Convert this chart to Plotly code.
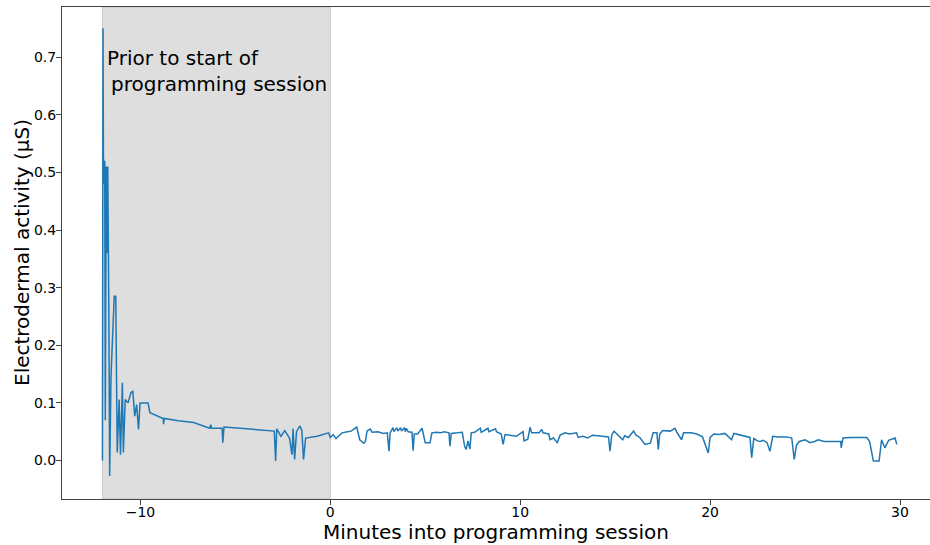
import plotly.graph_objects as go

minutes = [-12.0, -11.97, -11.95, -11.92, -11.88, -11.85, -11.80, -11.76, -11.72, -11.66,
           -11.62, -11.55, -11.45, -11.38, -11.30, -11.22, -11.12, -11.05, -10.95, -10.90,
           -10.80, -10.65, -10.50, -10.40, -10.30, -10.20, -10.10, -10.02, -9.85, -9.60,
           -9.50, -9.0, -8.8, -8.78, -8.75, -8.0, -7.2, -6.35, -6.3, -6.25,
           -5.7, -5.66, -5.6, -4.4, -2.95, -2.88, -2.82, -2.6, -2.4, -2.15,
           -2.02, -1.96, -1.88, -1.78, -1.6, -1.5, -1.41, -1.3, -0.7, -0.09,
           0.0, 0.15, 0.3, 0.45, 0.62, 0.9, 1.1, 1.39, 1.45, 1.55,
           1.76, 1.85, 1.93, 2.1, 2.2, 2.5, 2.8, 3.0, 3.09, 3.15,
           3.3, 3.35, 3.5, 3.55, 3.7, 3.75, 3.9, 3.95, 4.0, 4.1,
           4.3, 4.36, 4.42, 4.6, 4.83, 4.9, 5.0, 5.25, 5.35, 5.6,
           5.8, 6.0, 6.25, 6.3, 6.37, 6.7, 6.95, 7.07, 7.15, 7.25,
           7.35, 7.42, 7.6, 7.9, 7.95, 8.3, 8.35, 8.7, 8.75, 9.0,
           9.1, 9.2, 9.5, 9.8, 10.15, 10.2, 10.4, 10.52, 10.6, 11.0,
           11.13, 11.2, 11.5, 11.57, 11.75, 11.95, 12.1, 12.36, 12.6, 12.97,
           13.05, 13.3, 13.55, 13.8, 14.1, 14.4, 14.65, 14.73, 14.82, 14.94,
           15.2, 15.4, 15.5, 15.7, 15.97, 16.1, 16.3, 16.57, 16.85, 17.0,
           17.2, 17.27, 17.35, 17.5, 17.9, 18.15, 18.25, 18.5, 18.6, 19.0,
           19.3, 19.6, 19.9, 20.0, 20.2, 20.5, 20.78, 21.13, 21.25, 21.6,
           21.9, 22.1, 22.19, 22.3, 22.5, 22.63, 22.8, 23.0, 23.15, 23.3,
           23.6, 24.03, 24.3, 24.43, 24.55, 24.7, 25.0, 25.26, 25.5, 25.7,
           26.0, 26.4, 26.88, 26.9, 26.95, 27.0, 27.4, 27.8, 28.25, 28.4,
           28.6, 28.9, 29.03, 29.2, 29.4, 29.74, 29.83]

eda = [0.0, 0.75, 0.53, 0.48, 0.52, 0.07, 0.51, 0.36, 0.51, 0.24,
       -0.027, 0.146, 0.25, 0.285, 0.285, 0.014, 0.106, 0.01, 0.135, 0.014,
       0.106, 0.10, 0.118, 0.12, 0.077, 0.097, 0.054, 0.10, 0.10, 0.10,
       0.083, 0.076, 0.073, 0.063, 0.073, 0.069, 0.066, 0.056, 0.062, 0.056,
       0.056, 0.031, 0.058, 0.055, 0.051, -0.001, 0.055, 0.042, 0.052, 0.039,
       0.010, 0.055, 0.002, 0.05, 0.06, 0.052, 0.002, 0.039, 0.042, 0.048,
       0.040, 0.045, 0.038, 0.043, 0.048, 0.050, 0.051, 0.058, 0.050, 0.036,
       0.030, 0.033, 0.051, 0.055, 0.049, 0.050, 0.047, 0.048, 0.016, 0.048,
       0.057, 0.050, 0.057, 0.051, 0.057, 0.051, 0.057, 0.050, 0.056, 0.050,
       0.049, 0.017, 0.046, 0.046, 0.056, 0.047, 0.031, 0.031, 0.048, 0.049,
       0.048, 0.050, 0.048, 0.025, 0.047, 0.048, 0.049, 0.025, 0.019, 0.034,
       0.020, 0.048, 0.049, 0.056, 0.049, 0.056, 0.050, 0.055, 0.050, 0.046,
       0.028, 0.045, 0.044, 0.042, 0.050, 0.034, 0.037, 0.058, 0.048, 0.048,
       0.054, 0.048, 0.046, 0.036, 0.039, 0.031, 0.044, 0.048, 0.046, 0.048,
       0.040, 0.042, 0.039, 0.044, 0.043, 0.042, 0.041, 0.016, 0.044, 0.051,
       0.042, 0.036, 0.043, 0.040, 0.051, 0.044, 0.040, 0.028, 0.030, 0.048,
       0.048, 0.019, 0.046, 0.052, 0.051, 0.056, 0.049, 0.036, 0.048, 0.048,
       0.046, 0.041, 0.013, 0.040, 0.046, 0.045, 0.047, 0.036, 0.047, 0.044,
       0.042, 0.040, 0.005, 0.038, 0.034, 0.033, 0.035, 0.031, 0.016, 0.042,
       0.041, 0.041, 0.039, 0.002, 0.027, 0.033, 0.036, 0.031, 0.033, 0.036,
       0.033, 0.033, 0.033, 0.022, 0.033, 0.039, 0.040, 0.040, 0.040, 0.033,
       -0.001, -0.001, 0.036, 0.022, 0.035, 0.039, 0.028]

x_ticks = [-10, 0, 10, 20, 30]
x_tick_text = ["\u221210", "0", "10", "20", "30"]
y_ticks = [0.0, 0.1, 0.2, 0.3, 0.4, 0.5, 0.6, 0.7]
shade_start, shade_end = -12.0, 0.0
label_text = "Prior to start of<br>\u2009programming session"
x_title = "Minutes into programming session"
y_title = "Electrodermal activity (\u03bcS)"

FONT = "DejaVu Sans"

fig = go.Figure()
fig.add_vrect(x0=shade_start, x1=shade_end, fillcolor="#dedede", opacity=1,
              line=dict(color="#c8c8c8", width=1), layer="below")
fig.add_trace(go.Scatter(x=minutes, y=eda, mode="lines",
                         line=dict(color="#1f77b4", width=1.5), showlegend=False))
fig.add_annotation(x=-11.88, y=0.722, text=label_text, showarrow=False,
                   xanchor="left", yanchor="top", align="left",
                   font=dict(family=FONT, size=20, color="black"))
# axis titles as annotations for precise placement
fig.add_annotation(xref="paper", yref="paper", x=0.5, y=0, yshift=-19,
                   xanchor="center", yanchor="top", text=x_title, showarrow=False,
                   font=dict(family=FONT, size=20, color="black"))
fig.add_annotation(xref="paper", yref="paper", x=0, y=0.5, xshift=-40,
                   xanchor="center", yanchor="middle", textangle=-90,
                   text=y_title, showarrow=False,
                   font=dict(family=FONT, size=20, color="black"))

fig.update_layout(
    width=930, height=545,
    margin=dict(l=62, r=0, t=7, b=46),
    paper_bgcolor="white", plot_bgcolor="white",
    font=dict(family=FONT, color="black"),
)
fig.update_xaxes(range=[-14.13, 31.58], tickvals=x_ticks, ticktext=x_tick_text,
                 showgrid=False, zeroline=False, showline=True, linecolor="#444",
                 linewidth=1, mirror=True, ticks="outside", ticklen=5, tickcolor="#444",
                 tickfont=dict(size=14, family=FONT), automargin=False,
                 ticklabelstandoff=-5)
fig.update_yaxes(range=[-0.0668, 0.787], tickvals=y_ticks, tickformat=".1f",
                 showgrid=False, zeroline=False, showline=True, linecolor="#444",
                 linewidth=1, mirror=True, ticks="outside", ticklen=5, tickcolor="#444",
                 tickfont=dict(size=14, family=FONT), automargin=False,
                 ticklabelstandoff=-3)

fig.write_html("out.html")
